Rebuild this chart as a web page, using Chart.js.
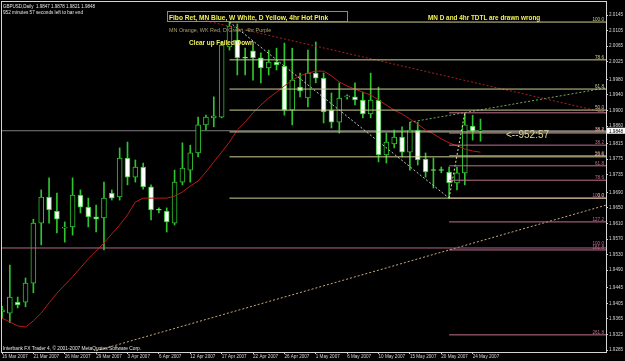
<!DOCTYPE html>
<html>
<head>
<meta charset="utf-8">
<script src="https://cdn.jsdelivr.net/npm/chart.js@4.4.1/dist/chart.umd.min.js"></script>
<style>
    html, body { margin: 0; padding: 0; background: #000; }
</style>
</head>
<body>
<canvas id="gbpChart" width="625" height="361"></canvas>
<script>
// GBPUSD daily - MT4 style candles with fib levels and trend lines

const dateLabels = ['16 Mar 2007', '21 Mar 2007', '26 Mar 2007', '29 Mar 2007', '3 Apr 2007', '6 Apr 2007',
    '12 Apr 2007', '17 Apr 2007', '22 Apr 2007', '26 Apr 2007', '1 May 2007', '6 May 2007',
    '10 May 2007', '15 May 2007', '20 May 2007', '24 May 2007'];
const barsPerLabel = 4;
const emptyBars = 16; // blank space right of the last candle

const opens = [1.9383, 1.9380, 1.9408, 1.9408, 1.9457, 1.9611, 1.9678, 1.9642, 1.9598, 1.9601,
    1.9683, 1.9652, 1.9627, 1.9624, 1.9688, 1.9678, 1.9778, 1.9729, 1.9755, 1.9704,
    1.9645, 1.9642, 1.9611, 1.9716, 1.9747, 1.9791, 1.9863, 1.9881, 1.9883, 2.0063,
    2.0081, 2.0035, 2.0053, 2.0035, 2.0009, 2.0024, 2.0014, 1.9901, 1.9960, 1.9932,
    1.9996, 1.9983, 1.9901, 1.9870, 1.9935, 1.9935, 1.9927, 1.9891, 1.9927, 1.9786,
    1.9814, 1.9832, 1.9793, 1.9850, 1.9775, 1.9747, 1.9747, 1.9742, 1.9714, 1.9740,
    1.9860, 1.9847];
const highs = [1.9398, 1.9503, 1.9421, 1.9470, 1.9621, 1.9696, 1.9727, 1.9688, 1.9614, 1.9727,
    1.9696, 1.9675, 1.9657, 1.9716, 1.9696, 1.9804, 1.9819, 1.9773, 1.9765, 1.9709,
    1.9650, 1.9650, 1.9747, 1.9817, 1.9811, 1.9883, 1.9888, 1.9935, 2.0076, 2.0127,
    2.0122, 2.0060, 2.0068, 2.0048, 2.0055, 2.0060, 2.0073, 2.0060, 1.9996, 2.0055,
    2.0076, 1.9996, 1.9945, 1.9971, 1.9940, 1.9971, 1.9947, 1.9996, 1.9960, 1.9842,
    1.9850, 1.9858, 1.9870, 1.9870, 1.9791, 1.9778, 1.9755, 1.9755, 1.9755, 1.9894,
    1.9888, 1.9878];
const lows = [1.9367, 1.9355, 1.9393, 1.9396, 1.9432, 1.9555, 1.9611, 1.9586, 1.9562, 1.9580,
    1.9637, 1.9601, 1.9588, 1.9542, 1.9670, 1.9670, 1.9709, 1.9716, 1.9698, 1.9619,
    1.9637, 1.9588, 1.9606, 1.9709, 1.9716, 1.9781, 1.9850, 1.9858, 1.9881, 2.0055,
    1.9991, 1.9991, 1.9978, 1.9971, 1.9991, 2.0004, 1.9888, 1.9863, 1.9935, 1.9909,
    1.9971, 1.9868, 1.9855, 1.9842, 1.9929, 1.9914, 1.9881, 1.9881, 1.9768, 1.9765,
    1.9804, 1.9781, 1.9747, 1.9760, 1.9729, 1.9701, 1.9740, 1.9675, 1.9696, 1.9709,
    1.9824, 1.9821];
const closes = [1.9388, 1.9421, 1.9401, 1.9457, 1.9611, 1.9678, 1.9645, 1.9621, 1.9599, 1.9683,
    1.9652, 1.9627, 1.9621, 1.9675, 1.9675, 1.9778, 1.9729, 1.9755, 1.9704, 1.9645,
    1.9644, 1.9614, 1.9716, 1.9752, 1.9791, 1.9863, 1.9883, 1.9886, 2.0068, 2.0117,
    2.0035, 2.0034, 2.0035, 2.0009, 2.0024, 2.0017, 1.9901, 1.9978, 1.9950, 1.9996,
    1.9983, 1.9896, 1.9870, 1.9932, 1.9937, 1.9927, 1.9891, 1.9927, 1.9786, 1.9819,
    1.9832, 1.9793, 1.9850, 1.9773, 1.9742, 1.9746, 1.9746, 1.9714, 1.9740, 1.9863,
    1.9847, 1.9848];

// red moving average
const maValues = [1.9367, 1.9357, 1.9347, 1.9344, 1.9360, 1.9380, 1.9406, 1.9431, 1.9452, 1.9473,
    1.9496, 1.9519, 1.9539, 1.9560, 1.9583, 1.9606, 1.9632, 1.9665, 1.9675, 1.9675,
    1.9675, 1.9675, 1.9680, 1.9691, 1.9706, 1.9719, 1.9742, 1.9768, 1.9793, 1.9819,
    1.9850, 1.9870, 1.9894, 1.9914, 1.9932, 1.9947, 1.9963, 1.9978, 1.9989, 1.9996,
    2.0001, 2.0001, 1.9989, 1.9973, 1.9963, 1.9955, 1.9947, 1.9940, 1.9927, 1.9914,
    1.9901, 1.9891, 1.9878, 1.9865, 1.9850, 1.9840, 1.9827, 1.9817, 1.9809, 1.9801,
    1.9796, 1.9793];

const yTicks = [2.0145, 2.0105, 2.0065, 2.0025, 1.9980, 1.9940, 1.9900, 1.9860, 1.9815, 1.9775, 1.9735,
    1.9690, 1.9650, 1.9610, 1.9570, 1.9530, 1.9490, 1.9445, 1.9405, 1.9365, 1.9325, 1.9285];
const priceMin = 1.9280;
const priceMax = 2.01785;
const bidPrice = 1.9848;

// daily fib (yellow) and 4hr fib (pink)
const dailyFibLevels = [2.0127, 2.0030, 1.9955, 1.9901, 1.9845, 1.9781, 1.9675];
const dailyFibNames = ['100.0', '78.6', '61.8', '50.0', '38.2', '23.6', '0.0'];
const dailyFibStart = 29;
const h4FibLevels = [1.9894, 1.9842, 1.9811, 1.9784, 1.9758, 1.9721, 1.9675, 1.9614, 1.9542, 1.9324];
const h4FibNames = ['0.0', '23.6', '38.2', '50.0', '61.8', '78.6', '100.0', '127.2', '161.8', '261.8'];
const h4FibStart = 57;
const weeklyLevel = 1.9547;
const weeklyName = '100.0';

// trend lines: [startIndex, startPrice, endIndex, endPrice]
const failedDownLine = [29, 2.0127, 57, 1.9675];
const h4SwingLine = [57, 1.9675, 59, 1.9894];
const redTdtl = [26, 2.0130, 77, 1.9894];
const greenTdtl = [52, 1.9870, 77, 1.9958];
const longSupport = [12, 1.9283, 77, 1.9657];

const candleCount = opens.length;
const totalBars = candleCount + emptyBars;
const lastIndex = totalBars - 1;

const categories = [];
for (let i = 0; i < totalBars; i++) {
    categories.push(i % barsPerLabel === 0 && i / barsPerLabel < dateLabels.length ? dateLabels[i / barsPerLabel] : '');
}

const GREEN = '#2ec42e';
const YELLOW_FIB = '#cfcf92';
const PINK_FIB = '#c0708e';
const AXIS = '#d4d4d4';
const FONT = 'Liberation Sans, Arial, sans-serif';

function segment(line) {
    const d = new Array(totalBars).fill(null);
    d[line[0]] = line[1];
    d[line[2]] = line[3];
    return d;
}

function lineSet(data, color, dash, order) {
    return {
        type: 'line',
        data: data,
        borderColor: color,
        borderWidth: 1,
        borderDash: dash || [],
        pointRadius: 0,
        spanGaps: true,
        tension: 0,
        order: order === undefined ? 0 : order,
    };
}

const datasets = [
    {
        label: 'body',
        data: opens.map((o, i) => [o, closes[i]]),
        backgroundColor: opens.map((o, i) => (closes[i] < o ? '#ffffff' : '#000000')),
        borderColor: GREEN,
        borderWidth: 1,
        borderSkipped: false,
        barThickness: 5,
        minBarLength: 1,
        grouped: false,
        order: 2,
    },
    {
        label: 'wick',
        data: lows.map((l, i) => [l, highs[i]]),
        backgroundColor: GREEN,
        borderWidth: 0,
        barThickness: 1,
        grouped: false,
        order: 3,
    },
    lineSet(maValues, '#b81c1c', null, 1),
    lineSet(segment([0, bidPrice, lastIndex, bidPrice]), '#7c7c7c', null, 4),
    lineSet(segment([0, weeklyLevel, lastIndex, weeklyLevel]), '#b0668a'),
];

dailyFibLevels.forEach(lv => datasets.push(lineSet(segment([dailyFibStart, lv, lastIndex, lv]), YELLOW_FIB)));
h4FibLevels.forEach(lv => datasets.push(lineSet(segment([h4FibStart, lv, lastIndex, lv]), PINK_FIB)));

datasets.push(lineSet(segment(failedDownLine), '#c8c8c8', [2, 2]));
datasets.push(lineSet(segment(h4SwingLine), '#e2e2a4', [2, 2]));
datasets.push(lineSet(segment(redTdtl), '#a82222', [2, 2]));
datasets.push(lineSet(segment(greenTdtl), '#7aa860', [2, 2]));
datasets.push(lineSet(segment(longSupport), '#c8aa78', [2, 2]));

function text(ctx, str, x, y, font, color, maxW) {
    ctx.font = font;
    ctx.fillStyle = color;
    ctx.textAlign = 'left';
    ctx.textBaseline = 'alphabetic';
    if (maxW) ctx.fillText(str, x, y, maxW);
    else ctx.fillText(str, x, y);
}

const mt4Overlay = {
    id: 'mt4Overlay',
    beforeDraw(chart) {
        const ctx = chart.ctx;
        ctx.save();
        ctx.fillStyle = '#000';
        ctx.fillRect(0, 0, chart.width, chart.height);
        ctx.restore();
    },
    afterDraw(chart) {
        const ctx = chart.ctx;
        const area = chart.chartArea;
        const y = chart.scales.y;
        ctx.save();

        // frame
        ctx.strokeStyle = AXIS;
        ctx.lineWidth = 1;
        ctx.strokeRect(area.left - 0.5, area.top - 0.5, area.right - area.left + 1, area.bottom - area.top + 1);

        // fib level labels
        ctx.font = '4.6px ' + FONT;
        ctx.textAlign = 'right';
        ctx.textBaseline = 'bottom';
        ctx.fillStyle = YELLOW_FIB;
        dailyFibLevels.forEach((lv, i) => ctx.fillText(dailyFibNames[i], area.right - 2, y.getPixelForValue(lv)));
        ctx.fillStyle = PINK_FIB;
        h4FibLevels.forEach((lv, i) => ctx.fillText(h4FibNames[i], area.right - 2, y.getPixelForValue(lv)));
        ctx.fillText(weeklyName, area.right - 2, y.getPixelForValue(weeklyLevel) - 2);

        // bid price box on the axis
        const by = y.getPixelForValue(bidPrice);
        ctx.fillStyle = '#ffffff';
        ctx.fillRect(area.right + 1, by - 3, 18, 6);
        ctx.fillStyle = '#000000';
        ctx.textAlign = 'left';
        ctx.textBaseline = 'middle';
        ctx.font = '4.6px ' + FONT;
        ctx.fillText(bidPrice.toFixed(4), area.right + 3, by + 0.5);

        // header and notes
        text(ctx, 'GBPUSD,Daily  1.9847 1.9878 1.9821 1.9848', 3, 8, '4.8px ' + FONT, '#e8e8e8', 92);
        text(ctx, '952 minutes 57 seconds left to bar end', 3, 14, '4.8px ' + FONT, '#e8e8e8', 80);
        ctx.strokeStyle = '#8a8a8a';
        ctx.strokeRect(167.5, 11.5, 180, 10);
        text(ctx, 'Fibo Ret, MN Blue, W White, D Yellow, 4hr Hot Pink', 169, 19.5, 'bold 6.6px ' + FONT, '#f2f25a', 177);
        text(ctx, 'MN Orange, WK Red, D Green, 4hr Purple', 169, 32, '5.4px ' + FONT, '#a8a070', 121);
        text(ctx, 'Clear up Failed Down', 189, 45, 'bold 6.4px ' + FONT, '#f2f25a', 72);
        text(ctx, 'MN D and 4hr TDTL are drawn wrong', 428, 20, 'bold 6.4px ' + FONT, '#f2f25a', 130);
        text(ctx, '<--952:57', 506, 138, '10px ' + FONT, '#d8d89a', 45);
        text(ctx, 'Interbank FX Trader 4, \u00a9 2001-2007 MetaQuotes Software Corp.', 3, 349.5, '4.8px ' + FONT, '#e8e8e8', 143);

        ctx.restore();
    },
};

new Chart(document.getElementById('gbpChart').getContext('2d'), {
    type: 'bar',
    data: { labels: categories, datasets: datasets },
    options: {
        responsive: false,
        animation: false,
        devicePixelRatio: 1,
        layout: { padding: { left: 2, top: 2, right: 0, bottom: 0 } },
        plugins: {
            legend: { display: false },
            tooltip: { enabled: false },
        },
        scales: {
            x: {
                offset: false,
                afterFit(scale) {
                    scale.height = 9;
                    scale.paddingLeft = 0;
                    scale.paddingRight = 0;
                },
                ticks: {
                    autoSkip: false,
                    maxRotation: 0,
                    minRotation: 0,
                    align: 'start',
                    padding: 0,
                    color: AXIS,
                    font: { family: FONT, size: 4.6 },
                    callback: (v, i) => categories[i],
                },
                grid: {
                    offset: false,
                    drawOnChartArea: false,
                    tickLength: 2,
                    color: ctx => (ctx.index % barsPerLabel === 0 && ctx.index < candleCount ? AXIS : 'transparent'),
                },
                border: { color: AXIS },
            },
            y: {
                position: 'right',
                min: priceMin,
                max: priceMax,
                afterFit(scale) {
                    scale.width = 19;
                    scale.paddingTop = 0;
                    scale.paddingBottom = 0;
                },
                afterBuildTicks(scale) {
                    scale.ticks = yTicks.map(v => ({ value: v }));
                },
                ticks: {
                    autoSkip: false,
                    padding: 1,
                    color: AXIS,
                    font: { family: FONT, size: 4.6 },
                    callback: v => Number(v).toFixed(4),
                },
                grid: { drawOnChartArea: false, tickLength: 2, color: AXIS },
                border: { color: AXIS },
            },
        },
    },
    plugins: [mt4Overlay],
});
</script>
</body>
</html>
